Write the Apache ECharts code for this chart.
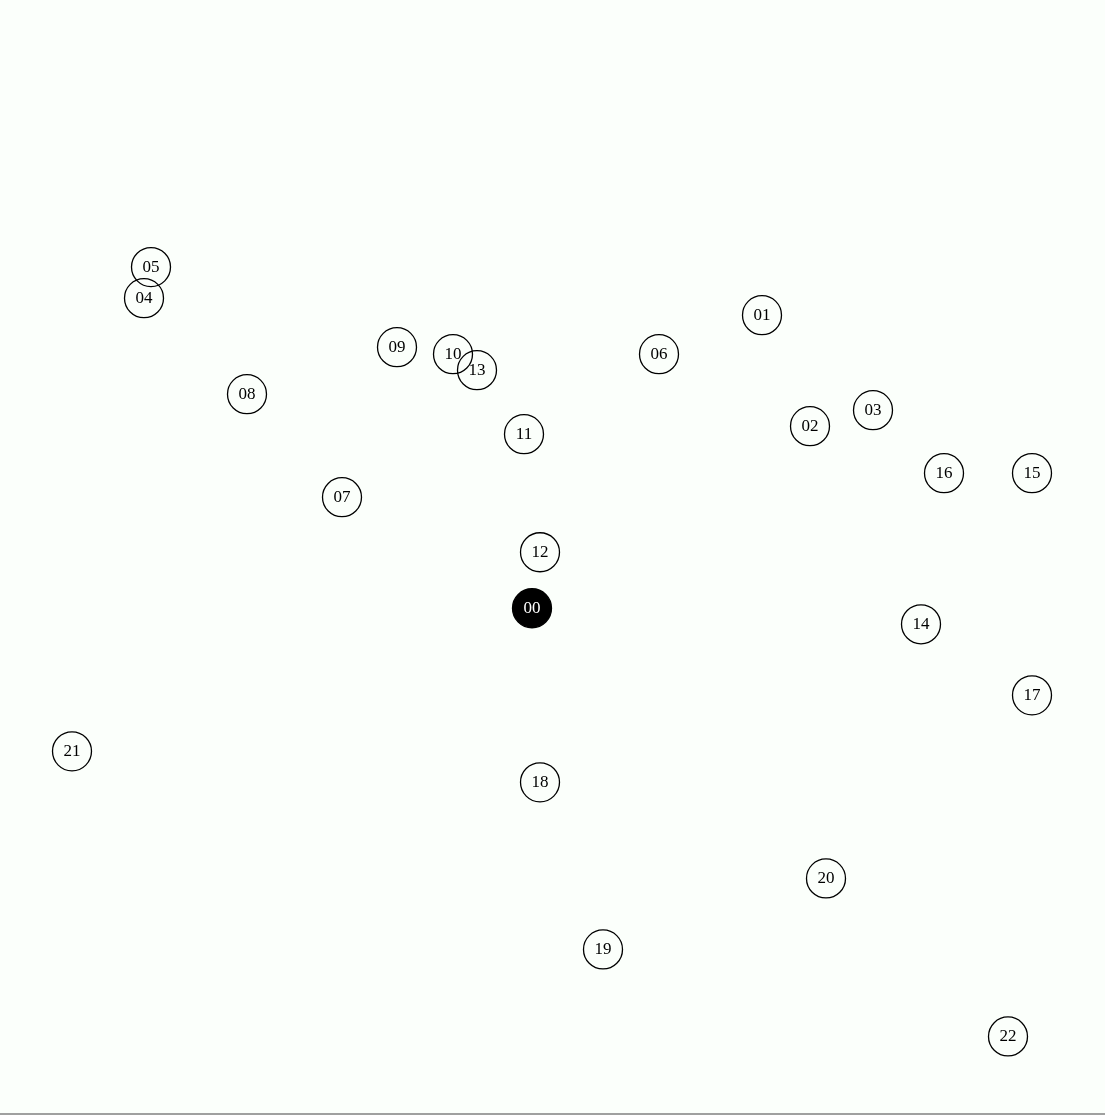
<!DOCTYPE html>
<html><head><meta charset="utf-8">
<script src="https://cdn.jsdelivr.net/npm/echarts@6/dist/echarts.min.js"></script>
<style>html,body{margin:0;padding:0;background:#fbfffb;}#c{width:1105px;height:1115px;}</style>
</head><body><div id="c"></div>
<script>
const nodeIds = ['00','01','02','03','04','05','06','07','08','09','10','11','12','13','14','15','16','17','18','19','20','21','22'];
const xValues = [532,762,810,873,144,151,659,342,247,397,453,524,540,477,921,1032,944,1032,540,603,826,72,1008];
const yValues = [608,315,426,410,298,267,354,497,394,347,354,434,552,370,624,473,473,695,782,949,878,751,1036];
const depotIndex = 0;

const data = nodeIds.map((id, i) => {
  const isDepot = i === depotIndex;
  return {
    name: id,
    value: [xValues[i], yValues[i]],
    itemStyle: isDepot ? {color: '#000', borderColor: '#000', borderWidth: 1.3, opacity: 1} : {color: 'rgba(0,0,0,0)', borderColor: '#000', borderWidth: 1.3, opacity: 1},
    label: {color: isDepot ? '#fff' : '#000'}
  };
});

const chart = echarts.init(document.getElementById('c'));
chart.setOption({
  backgroundColor: '#fbfffb',
  animation: false,
  grid: {left: 0, right: 0, top: 0, bottom: 1.5},
  xAxis: {type: 'value', min: 0, max: 1105, show: true, position: 'bottom',
    axisLine: {show: true, onZero: false, lineStyle: {color: '#808080', width: 1.5}},
    axisTick: {show: false}, axisLabel: {show: false}, splitLine: {show: false}},
  yAxis: {type: 'value', min: 0, max: 1113, inverse: true, show: false, splitLine: {show: false}},
  series: [{
    type: 'scatter',
    symbol: 'circle',
    symbolSize: 39,
    data: data,
    label: {show: true, position: 'inside', formatter: p => p.name, offset: [0, 0],
      fontFamily: '"Liberation Serif", "DejaVu Serif", serif', fontSize: 17}
  }]
});
</script></body></html>
